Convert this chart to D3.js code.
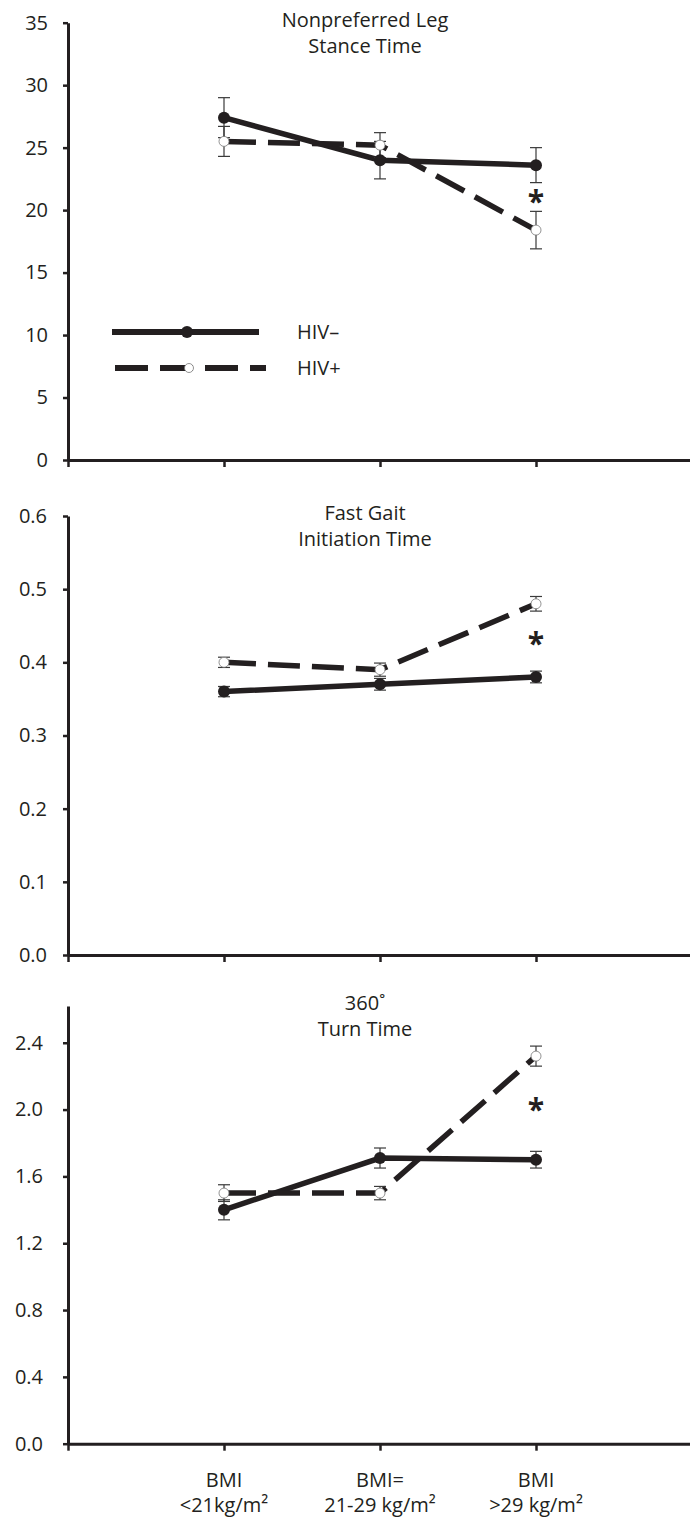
<!DOCTYPE html>
<html>
<head>
<meta charset="utf-8">
<script src="https://cdn.jsdelivr.net/npm/d3@7"></script>
<style>
  body { margin: 0; background: #fff; }
  text { font-family: "Open Sans", sans-serif; fill: #231f20; }
</style>
</head>
<body>
<svg width="690" height="1521"></svg>
<script>
// categories (x axis, two lines each)
var catLine1 = ["BMI", "BMI=", "BMI"];
var catLine2 = ["<21kg/m²", "21-29 kg/m²", ">29 kg/m²"];
var catPos = [1, 2, 3];

// series names
var seriesNames = ["HIV–", "HIV+"];

// panel 1: nonpreferred leg stance time
var stanceNeg = [27.4, 24.0, 23.6];
var stanceNegErr = [1.6, 1.5, 1.4];
var stancePos = [25.5, 25.2, 18.4];
var stancePosErr = [1.2, 1.0, 1.5];
var stanceTicks = [0, 5, 10, 15, 20, 25, 30, 35];

// panel 2: fast gait initiation time
var gaitNeg = [0.36, 0.37, 0.38];
var gaitNegErr = [0.007, 0.008, 0.008];
var gaitPos = [0.40, 0.39, 0.48];
var gaitPosErr = [0.007, 0.009, 0.010];
var gaitTicks = [0, 0.1, 0.2, 0.3, 0.4, 0.5, 0.6];

// panel 3: 360 turn time
var turnNeg = [1.40, 1.71, 1.70];
var turnNegErr = [0.06, 0.06, 0.05];
var turnPos = [1.50, 1.50, 2.32];
var turnPosErr = [0.05, 0.04, 0.06];
var turnTicks = [0, 0.4, 0.8, 1.2, 1.6, 2.0, 2.4];

// significance asterisks (value, category)
var starValues = [21.0, 0.43, 2.02];
var starCat = 3;

var svg = d3.select("svg"),
  width = +svg.attr("width"),
  height = +svg.attr("height");

var ink = "#231f20";

// shared x scale
var x = d3.scaleLinear().domain([0, 4]).range([68, 692]);

// panel table built from the arrays above
var panels = [
  { title: ["Nonpreferred Leg", "Stance Time"], neg: stanceNeg, negErr: stanceNegErr, pos: stancePos, posErr: stancePosErr,
    ticks: stanceTicks, max: 35, top: 22.7, bottom: 460, fmt: d3.format("d"), pad: 15, star: starValues[0], legend: true },
  { title: ["Fast Gait", "Initiation Time"], neg: gaitNeg, negErr: gaitNegErr, pos: gaitPos, posErr: gaitPosErr,
    ticks: gaitTicks, max: 0.6, top: 516, bottom: 955, fmt: d3.format(".1f"), pad: 16, star: starValues[1] },
  { title: ["360˚", "Turn Time"], neg: turnNeg, negErr: turnNegErr, pos: turnPos, posErr: turnPosErr,
    ticks: turnTicks, max: 2.62, top: 1006, bottom: 1443.7, fmt: d3.format(".1f"), pad: 20, star: starValues[2], xlabels: true }
];

panels.forEach(function (p) {
  var g = svg.append("g");
  var y = d3.scaleLinear().domain([0, p.max]).range([p.bottom, p.top]);

  // y axis
  var ya = g.append("g")
    .attr("transform", "translate(" + x(0) + ",0)")
    .call(d3.axisLeft(y).tickValues(p.ticks).tickFormat(p.fmt).tickSize(5).tickSizeOuter(0).tickPadding(p.pad));
  ya.select(".domain").attr("stroke", ink).attr("stroke-width", 3);
  ya.selectAll(".tick line").attr("stroke", ink).attr("stroke-width", 2.5);
  ya.selectAll(".tick text").style("font-size", "20px").attr("fill", ink);

  // x axis
  var xa = g.append("g")
    .attr("transform", "translate(0," + p.bottom + ")")
    .call(d3.axisBottom(x).tickValues([0, 1, 2, 3]).tickFormat("").tickSize(7).tickSizeOuter(0));
  xa.select(".domain").attr("stroke", ink).attr("stroke-width", 3);
  xa.selectAll(".tick line").attr("stroke", ink).attr("stroke-width", 2.5);

  // title
  g.selectAll(".title")
    .data(p.title)
    .enter()
    .append("text")
    .attr("class", "title")
    .attr("x", 365)
    .attr("y", function (d, i) { return p.top + 4 + i * 26; })
    .attr("text-anchor", "middle")
    .style("font-size", "20px")
    .text(function (d) { return d; });

  var line = d3.line()
    .x(function (d, i) { return x(catPos[i]); })
    .y(function (d) { return y(d); });

  // HIV- solid line
  g.append("path")
    .datum(p.neg)
    .attr("d", line)
    .attr("fill", "none")
    .attr("stroke", ink)
    .attr("stroke-width", 5.5);

  // HIV+ dashed line
  g.append("path")
    .datum(p.pos)
    .attr("d", line)
    .attr("fill", "none")
    .attr("stroke", ink)
    .attr("stroke-width", 5.5)
    .attr("stroke-dasharray", "32,12");

  // error bars for both series
  [[p.neg, p.negErr], [p.pos, p.posErr]].forEach(function (s) {
    var eb = g.append("g");
    s[0].forEach(function (v, i) {
      var cx = x(catPos[i]);
      var hi = y(v + s[1][i]), lo = y(v - s[1][i]);
      eb.append("line").attr("x1", cx).attr("x2", cx).attr("y1", hi).attr("y2", lo);
      eb.append("line").attr("x1", cx - 6).attr("x2", cx + 6).attr("y1", hi).attr("y2", hi);
      eb.append("line").attr("x1", cx - 6).attr("x2", cx + 6).attr("y1", lo).attr("y2", lo);
    });
    eb.selectAll("line").attr("stroke", "#3a3a3a").attr("stroke-width", 1.2);
  });

  // markers
  g.selectAll(".mneg")
    .data(p.neg)
    .enter()
    .append("circle")
    .attr("cx", function (d, i) { return x(catPos[i]); })
    .attr("cy", function (d) { return y(d); })
    .attr("r", 6)
    .attr("fill", ink);

  g.selectAll(".mpos")
    .data(p.pos)
    .enter()
    .append("circle")
    .attr("cx", function (d, i) { return x(catPos[i]); })
    .attr("cy", function (d) { return y(d); })
    .attr("r", 5)
    .attr("fill", "#fff")
    .attr("stroke", "#777")
    .attr("stroke-width", 0.8);

  // asterisk
  g.append("text")
    .attr("x", x(starCat))
    .attr("y", y(p.star) + 14)
    .attr("text-anchor", "middle")
    .style("font-size", "30px")
    .style("font-weight", "bold")
    .text("*");

  // legend (first panel only)
  if (p.legend) {
    var lg = g.append("g");
    lg.append("line").attr("x1", 112).attr("x2", 259).attr("y1", 332).attr("y2", 332)
      .attr("stroke", ink).attr("stroke-width", 6);
    lg.append("circle").attr("cx", 187).attr("cy", 332).attr("r", 6).attr("fill", ink);
    lg.append("line").attr("x1", 115).attr("x2", 266).attr("y1", 368).attr("y2", 368)
      .attr("stroke", ink).attr("stroke-width", 6).attr("stroke-dasharray", "33,12");
    lg.append("circle").attr("cx", 189).attr("cy", 368).attr("r", 4.5)
      .attr("fill", "#fff").attr("stroke", "#777").attr("stroke-width", 0.8);
    lg.selectAll(".ltext")
      .data(seriesNames)
      .enter()
      .append("text")
      .attr("x", 297)
      .attr("y", function (d, i) { return 332 + i * 36; })
      .attr("dy", "0.35em")
      .style("font-size", "20px")
      .text(function (d) { return d; });
  }

  // category labels (bottom panel only)
  if (p.xlabels) {
    var lab = g.selectAll(".cat")
      .data(catPos)
      .enter()
      .append("text")
      .attr("text-anchor", "middle")
      .style("font-size", "20px");
    lab.append("tspan")
      .attr("x", function (d) { return x(d); })
      .attr("y", p.bottom + 43)
      .text(function (d, i) { return catLine1[i]; });
    lab.append("tspan")
      .attr("x", function (d) { return x(d); })
      .attr("y", p.bottom + 68)
      .text(function (d, i) { return catLine2[i]; });
  }
});
</script>
</body>
</html>
